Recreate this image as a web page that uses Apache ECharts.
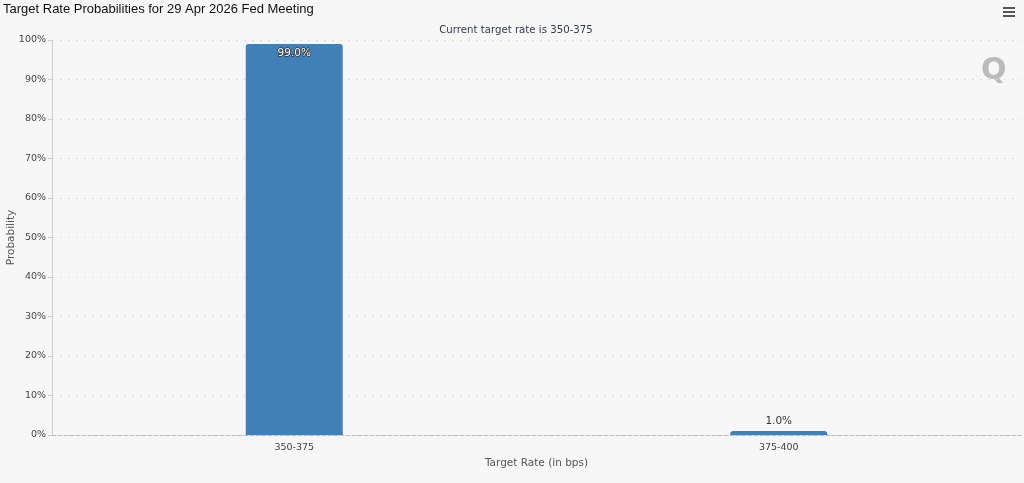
<!DOCTYPE html>
<html><head><meta charset="utf-8">
<script src="https://cdn.jsdelivr.net/npm/echarts@6/dist/echarts.min.js"></script>
<style>html,body{margin:0;padding:0;background:#f7f7f7;}#c{width:1024px;height:483px;}</style>
</head><body><div id="c"></div>
<script>
const categories = ['350-375', '375-400'];
const probabilities = [99.0, 1.0];
const yTicks = [0, 10, 20, 30, 40, 50, 60, 70, 80, 90, 100];

const chart = echarts.init(document.getElementById('c'));
chart.setOption({
  backgroundColor: '#f7f7f7',
  animation: false,
  title: [{
    text: 'Target Rate Probabilities for 29 Apr 2026 Fed Meeting',
    left: 3, top: 3, padding: 0,
    textStyle: { fontFamily: 'Liberation Sans', fontSize: 13, fontWeight: 'normal', color: '#111' }
  }, {
    text: 'Current target rate is 350-375',
    left: 511, top: 20, textAlign: 'center',
    textStyle: { fontFamily: 'DejaVu Sans', fontSize: 10.2, fontWeight: 'normal', color: '#333a4a' }
  }],
  grid: { left: 52, right: 3, top: 40, bottom: 48, outerBoundsMode: 'none', containLabel: false },
  xAxis: {
    type: 'category',
    data: categories,
    name: 'Target Rate (in bps)',
    nameLocation: 'middle',
    nameGap: 23,
    nameMoveOverlap: false,
    nameTextStyle: { fontFamily: 'DejaVu Sans', fontSize: 10.5, color: '#555' },
    axisLine: { lineStyle: { color: '#bbb', type: 'dashed' } },
    axisTick: { alignWithLabel: true, length: 5, lineStyle: { color: '#ccc' } },
    axisLabel: { fontFamily: 'DejaVu Sans', fontSize: 9.5, color: '#444', margin: 8 }
  },
  yAxis: {
    type: 'value',
    min: 0, max: 100, interval: 10,
    name: 'Probability',
    nameLocation: 'middle',
    nameGap: 35,
    nameMoveOverlap: false,
    nameTextStyle: { fontFamily: 'DejaVu Sans', fontSize: 10.5, color: '#555' },
    axisLine: { show: true, lineStyle: { color: '#ccc' } },
    axisTick: { show: true, length: 4, lineStyle: { color: '#ccc' } },
    axisLabel: {
      fontFamily: 'DejaVu Sans', fontSize: 9.5, color: '#444', margin: 6,
      formatter: v => yTicks.includes(v) ? v + '%' : ''
    },
    splitLine: { lineStyle: { color: '#ddd', type: [2, 6] } }
  },
  series: [{
    type: 'bar',
    data: probabilities.map((v, i) => ({
      value: v,
      label: i === 0
        ? { show: true, position: 'insideTop', distance: 4, color: '#fff', textBorderColor: '#333', textBorderWidth: 1.5 }
        : { show: true, position: 'top', distance: 4, color: '#333', textBorderWidth: 0 }
    })),
    barWidth: 97,
    itemStyle: { color: '#4180b7', borderRadius: [3, 3, 0, 0] },
    label: {
      show: true,
      fontFamily: 'DejaVu Sans', fontSize: 10.5,
      formatter: p => p.value.toFixed(1) + '%'
    }
  }],
  graphic: [
    { type: 'rect', left: 1003, top: 7, shape: { width: 12, height: 2 }, style: { fill: '#555' } },
    { type: 'rect', left: 1003, top: 11, shape: { width: 12, height: 2 }, style: { fill: '#555' } },
    { type: 'rect', left: 1003, top: 15, shape: { width: 12, height: 2 }, style: { fill: '#555' } },
    { type: 'text', left: 981, top: 56, style: { text: 'Q', fontFamily: 'DejaVu Sans', fontWeight: 'bold', fontSize: 30, fill: '#bbbbbb' } }
  ]
});
</script></body></html>
